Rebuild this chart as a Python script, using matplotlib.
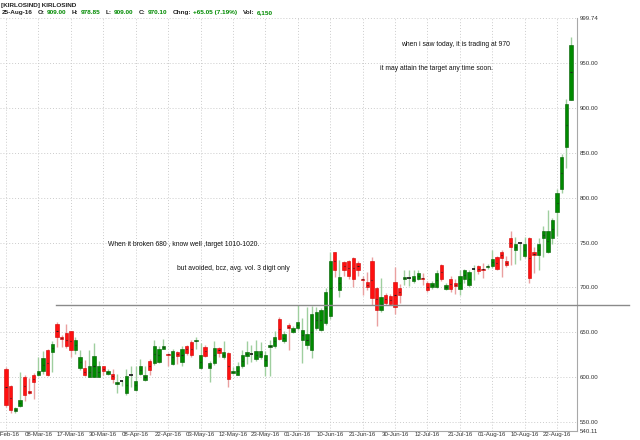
"""KIRLOSIND daily candles, Feb-Aug 2016, with the 680 breakout line."""

import matplotlib
matplotlib.use("Agg")
import matplotlib.pyplot as plt
import pandas as pd

# NSE trading holidays in the window
HOLIDAYS = ["2016-03-07", "2016-03-24", "2016-03-25", "2016-04-14",
            "2016-04-15", "2016-04-19", "2016-07-06", "2016-08-15"]
dates = [d for d in pd.bdate_range("2016-02-25", "2016-08-25")
         if d.strftime("%Y-%m-%d") not in HOLIDAYS]

opens = [609, 590, 562, 568, 600, 585, 602, 603, 607, 630,
         628, 659, 645, 649, 651, 630, 610, 610, 600, 600,
         600, 612, 604, 604, 592, 595, 582, 602, 586, 604,
         597, 618, 616, 617, 632, 626, 615, 628, 617, 635,
         639, 640, 610, 634, 610, 616, 633, 622, 627, 605,
         603, 612, 624, 626, 620, 622, 613, 634, 635, 665,
         640, 658, 650, 655, 642, 636, 630, 655, 653, 660,
         668, 739, 697, 728, 730, 733, 727, 710, 706, 729,
         699, 675, 692, 690, 706, 699, 709, 710, 707, 709,
         711, 705, 700, 700, 725, 698, 710, 705, 698, 709,
         703, 720, 724, 721, 723, 724, 734, 740, 730, 755,
         742, 749, 735, 755, 739, 736, 755, 740, 755, 784,
         810, 857, 909]
highs = [611, 591, 567, 606, 602, 599, 605, 623, 629, 632,
         640, 661, 647, 659, 652, 645, 630, 619, 630, 638,
         618, 613, 609, 609, 604, 597, 609, 613, 613, 620,
         612, 620, 642, 635, 643, 627, 631, 629, 635, 636,
         641, 645, 638, 636, 618, 640, 634, 640, 628, 611,
         617, 630, 640, 636, 641, 639, 629, 642, 652, 667,
         652, 660, 657, 680, 666, 678, 679, 678, 677, 699,
         739, 740, 731, 730, 731, 734, 729, 713, 717, 734,
         700, 711, 694, 693, 723, 704, 719, 720, 719, 720,
         716, 707, 707, 719, 726, 705, 713, 710, 719, 721,
         720, 725, 725, 727, 726, 742, 735, 742, 735, 763,
         756, 750, 756, 756, 745, 755, 768, 786, 777, 810,
         849, 910, 978.85]
lows = [567, 560, 560, 567, 574, 581, 576, 601, 604, 601,
        606, 634, 634, 633, 623, 626, 608, 601, 600, 600,
        600, 603, 602, 594, 582, 590, 580, 589, 585, 602,
        596, 602, 614, 616, 631, 612, 614, 615, 613, 625,
        623, 632, 609, 622, 595, 614, 623, 620, 589, 604,
        602, 610, 615, 617, 618, 620, 601, 601, 633, 641,
        638, 630, 649, 653, 616, 632, 621, 653, 651, 658,
        665, 712, 689, 713, 709, 701, 713, 692, 697, 680,
        657, 673, 680, 680, 670, 683, 703, 702, 705, 708,
        703, 695, 698, 699, 707, 697, 695, 693, 692, 705,
        701, 708, 715, 711, 721, 722, 719, 712, 723, 725,
        726, 731, 733, 705, 716, 719, 734, 738, 748, 757,
        805, 833, 909]
closes = [569, 563, 566, 575, 580, 582, 595, 607, 621, 602,
          637, 645, 643, 635, 630, 642, 623, 602, 612, 624,
          612, 607, 607, 598, 595, 595.5, 601, 602.5, 596, 613,
          603, 608, 635, 632, 635, 625, 629, 624, 632, 627,
          625, 641, 625, 624, 616, 633, 627, 628, 598, 607,
          612, 625, 628, 626.5, 629, 629, 625, 636, 645, 643,
          648, 655, 655, 661, 653, 648, 670, 673, 675, 695,
          730, 719, 712, 719, 713, 710, 720, 708, 700, 688,
          675, 689, 683, 682, 678, 692, 712, 710.5, 713, 716.5,
          710, 697, 704.5, 716, 709, 703, 698, 701.5, 713, 719,
          717, 720.5, 718, 720, 724, 732, 721, 732.5, 725, 745,
          748, 749.5, 749, 711, 736, 748, 763, 763, 775, 805,
          845, 904, 970.1]

BREAKOUT = 680
Y_MIN, Y_MAX = 540.11, 999.74
Y_TICKS = [550, 600, 650, 700, 750, 800, 850, 900, 950]

GREEN, GREEN_EDGE, GREEN_WICK = "#008a00", "#005a00", "#9fcf9f"
RED, RED_WICK = "#ff1010", "#eaa0a0"
GRID = "#cccccc"
TXT = "#222222"
FS_TICK = 4.4
FS_HEAD = 4.6
FS_NOTE = 4.9

plt.rcParams["font.family"] = ["Liberation Sans", "DejaVu Sans"]
fig = plt.figure(figsize=(6.4, 4.4), dpi=100)
ax = fig.add_axes([0.0, 0.0205, 0.9016, 0.9375])

x = list(range(len(dates)))
for i in x:
    o, h, l, c = opens[i], highs[i], lows[i], closes[i]
    up = c >= o
    doji = abs(c - o) < 1
    wick = GREEN_WICK if up else RED_WICK
    ax.vlines(i, l, h, color=wick, linewidth=1.0, zorder=2)
    if doji:
        ax.hlines((o + c) / 2, i - 0.35, i + 0.35, color="#111111",
                  linewidth=1.2, zorder=3)
        continue
    face = GREEN if up else RED
    edge = GREEN_EDGE if up else "#d00000"
    ax.bar(i, abs(c - o), bottom=min(o, c), width=0.72, color=face,
           edgecolor=edge, linewidth=0.4, zorder=3)
    ax.hlines((o + c) / 2, i - 0.12, i + 0.12, color="#222222",
              linewidth=0.8, zorder=4)

ax.set_xlim(-1.3, 123.3)
ax.set_ylim(Y_MIN, Y_MAX)

# breakout line, runs past the price axis like in the original
ax.plot([10.8, 134.5], [BREAKOUT, BREAKOUT], color="#8a8a8a",
        linewidth=1.0, zorder=5, clip_on=False)

tick_idx = list(range(0, len(dates), 7))
ax.set_xticks(tick_idx)
ax.set_xticklabels([dates[k].strftime("%d-%b-%y") for k in tick_idx],
                   fontsize=FS_TICK, color="#333333")
ax.yaxis.tick_right()
ax.set_yticks([Y_MIN] + Y_TICKS + [Y_MAX])
ax.set_yticklabels([f"{v:.2f}" for v in [Y_MIN] + Y_TICKS + [Y_MAX]],
                   fontsize=FS_TICK, color="#333333")
ax.tick_params(axis="both", length=0, pad=2)
ax.tick_params(axis="x", pad=1.0)

for k in tick_idx:
    ax.axvline(k, color=GRID, linestyle=(0, (1, 2)), linewidth=0.7, zorder=0)
for v in Y_TICKS + [Y_MAX]:
    ax.axhline(v, color=GRID, linestyle=(0, (1, 2)), linewidth=0.7, zorder=0)

for side in ("top", "left"):
    ax.spines[side].set_visible(False)
ax.spines["right"].set_color("#a8a8a8")
ax.spines["bottom"].set_color("#a8a8a8")
ax.spines["right"].set_linewidth(0.8)
ax.spines["bottom"].set_linewidth(0.8)

# header lines
fig.text(0.002, 0.988, "[KIRLOSIND] KIRLOSIND", fontsize=FS_HEAD, color=TXT,
         va="center", ha="left", fontweight="bold")
parts = [("25-Aug-16", TXT), ("O:", TXT), ("909.00", GREEN), ("H:", TXT),
         ("978.85", GREEN), ("L:", TXT), ("909.00", GREEN), ("C:", TXT),
         ("970.10", GREEN), ("Chng:", TXT), ("+65.05 (7.19%)", GREEN),
         ("Vol:", TXT), ("6,150", GREEN)]
prev = fig.text(0.002, 0.971, parts[0][0], fontsize=FS_HEAD,
                color=parts[0][1], va="center", ha="left", fontweight="bold")
for k, (s, col) in enumerate(parts[1:], start=1):
    gap = 1.5 if parts[k - 1][0].endswith(":") else 4
    prev = ax.annotate(s, xy=(1, 0), xycoords=prev, xytext=(gap, 0),
                       textcoords="offset points", ha="left", va="bottom",
                       fontsize=FS_HEAD, color=col, fontweight="bold",
                       annotation_clip=False)

# comments written on the chart
notes = [
    (401, 45, "when i saw today, it is trading at 970"),
    (380, 68, "it may attain the target any time soon."),
    (108, 245, "When it broken 680 , know well ,target 1010-1020."),
    (177, 268, "but avoided, bcz, avg. vol. 3 digit only"),
]
for px, py, s in notes:
    fig.text(px / 640, 1 - py / 440, s, fontsize=FS_NOTE, color="#111111",
             ha="left", va="center")

fig.savefig("out.png", dpi=100)
